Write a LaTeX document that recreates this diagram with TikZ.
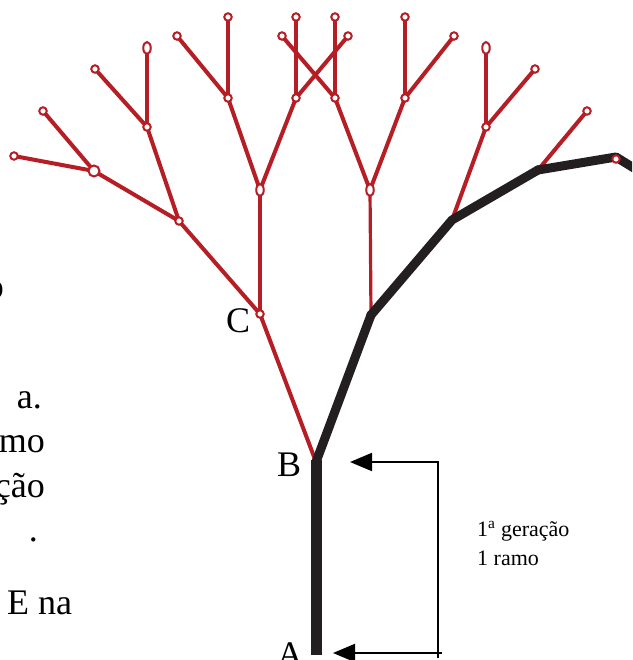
\documentclass[tikz,border=0pt]{standalone}
\usepackage{fontspec}
\setmainfont{Liberation Serif}
\usetikzlibrary{arrows.meta,shapes.geometric}
\definecolor{treered}{HTML}{B61E26}
\definecolor{treeblack}{HTML}{231F20}
\begin{document}
\begin{tikzpicture}[x=1pt,y=-1pt,
  redline/.style={draw=treered,line width=4pt,line cap=round},
  thinred/.style={draw=treered,line width=3.2pt,line cap=round},
  blackline/.style={draw=treeblack,line width=9pt,line join=round},
  trunkline/.style={draw=treeblack,line width=11pt},
  knot/.style={circle,draw=treered,fill=white,line width=2pt,inner sep=0pt,minimum size=7.5pt},
  bigknot/.style={knot,minimum size=11pt},
  ovalknot/.style={ellipse,draw=treered,fill=white,line width=2pt,inner sep=0pt,minimum width=7.5pt,minimum height=12pt},
  bigtext/.style={font=\fontsize{36}{40}\selectfont,inner sep=0pt},
  smalltext/.style={font=\fontsize{22}{28}\selectfont,inner sep=0pt},
  brk/.style={draw=black,line width=2pt},
  tip/.style={-{Triangle[length=22pt,width=18pt]}}
  ]
\useasboundingbox (0,0) rectangle (632,660);
\clip (0,0) rectangle (632,660);

% ---- tree points ----
\coordinate (A) at (316,655);
\coordinate (B) at (316,462);
\coordinate (C) at (260,314);
\coordinate (L1) at (179,221);
\coordinate (L2) at (94,171);
\coordinate (L3) at (14,156);
\coordinate (L4) at (43,111);
\coordinate (L5) at (147,127);
\coordinate (L6) at (95,69);
\coordinate (L7) at (147,48);
\coordinate (M) at (260,190);
\coordinate (M1) at (228,98);
\coordinate (M2) at (296,98);
\coordinate (M1a) at (177,36);
\coordinate (M1b) at (228,17);
\coordinate (M2a) at (296,17);
\coordinate (M2b) at (348,36);
\coordinate (R) at (371,315);
\coordinate (R1) at (452,220);
\coordinate (R2) at (538,170);
\coordinate (R3) at (616,157);
\coordinate (R4) at (587,111);
\coordinate (R5) at (486,127);
\coordinate (R6) at (535,69);
\coordinate (R7) at (486,48);
\coordinate (N) at (370,190);
\coordinate (N1) at (335,98);
\coordinate (N2) at (405,98);
\coordinate (N1a) at (282,36);
\coordinate (N1b) at (335,17);
\coordinate (N2a) at (405,17);
\coordinate (N2b) at (454,36);
\coordinate (Rend) at (650,178);

% ---- red branches ----
\draw[redline] (B) -- (C);
\draw[redline] (C) -- (L1);
\draw[thinred] (C) -- (M);
\draw[redline] (L1) -- (L2);
\draw[redline] (L1) -- (L5);
\draw[redline] (L2) -- (L3);
\draw[redline] (L2) -- (L4);
\draw[redline] (L5) -- (L6);
\draw[thinred] (L5) -- (L7);
\draw[redline] (M) -- (M1);
\draw[redline] (M) -- (M2);
\draw[redline] (M1) -- (M1a);
\draw[thinred] (M1) -- (M1b);
\draw[thinred] (M2) -- (M2a);
\draw[redline] (M2) -- (M2b);
\draw[redline] (B) -- (R);
\draw[thinred] (R) -- (N);
\draw[redline] (N) -- (N1);
\draw[redline] (N) -- (N2);
\draw[redline] (N1) -- (N1a);
\draw[thinred] (N1) -- (N1b);
\draw[thinred] (N2) -- (N2a);
\draw[redline] (N2) -- (N2b);
\draw[redline] (R) -- (R1);
\draw[redline] (R1) -- (R2);
\draw[redline] (R1) -- (R5);
\draw[redline] (R5) -- (R6);
\draw[thinred] (R5) -- (R7);
\draw[redline] (R2) -- (R3);
\draw[redline] (R2) -- (R4);

% knots hidden under the black path
\node[knot] (kR) at (R) {};
\node[knot] (kR2) at (R2) {};

% ---- black trunk and main path ----
\draw[trunkline] (A) -- ([yshift=2pt]B);
\draw[blackline] (B) -- (R) -- (R1) -- (R2) -- (R3) -- (Rend);

% ---- visible knots ----
\node[knot] (kC) at (C) {};
\node[knot] (kL1) at (L1) {};
\node[bigknot] (kL2) at (L2) {};
\node[knot] (kL3) at (L3) {};
\node[knot] (kL4) at (L4) {};
\node[knot] (kL5) at (L5) {};
\node[knot] (kL6) at (L6) {};
\node[ovalknot] (kL7) at (L7) {};
\node[ovalknot] (kM) at (M) {};
\node[knot] (kM1) at (M1) {};
\node[knot] (kM2) at (M2) {};
\node[knot] (kM1a) at (M1a) {};
\node[knot] (kM1b) at (M1b) {};
\node[knot] (kM2a) at (M2a) {};
\node[knot] (kM2b) at (M2b) {};
\node[ovalknot] (kN) at (N) {};
\node[knot] (kN1) at (N1) {};
\node[knot] (kN2) at (N2) {};
\node[knot] (kN1a) at (N1a) {};
\node[knot] (kN1b) at (N1b) {};
\node[knot] (kN2a) at (N2a) {};
\node[knot] (kN2b) at (N2b) {};
\node[knot] (kR5) at (R5) {};
\node[knot] (kR6) at (R6) {};
\node[ovalknot] (kR7) at (R7) {};
\node[knot] (kR4) at (R4) {};
\node[knot] (kR3) at ([yshift=-2pt]R3) {};

% ---- labels ----
\node[bigtext,anchor=base west] (labC) at (226,332) {C};
\node[bigtext,anchor=base west] (labB) at (277,476) {B};
\node[bigtext,anchor=base west] (labA) at (277,666) {A};

% ---- bracket with arrows ----
\coordinate (tipB) at (350,462);
\coordinate (brkTR) at (438,462);
\coordinate (brkBR) at (438,658);
\coordinate (brkBE) at (442,653);
\coordinate (tipA) at (333,653);
\draw[brk,tip] (brkBR) -- (brkTR) -- (tipB);
\draw[brk,tip] (brkBE) -- (tipA);

\node[smalltext,anchor=base west] (gen) at (477,536) {1\textsuperscript{a} geração};
\node[smalltext,anchor=base west] (ramo) at (477,565) {1 ramo};

% ---- cut-off body text at the left ----
\node[bigtext,anchor=base east] (t0) at (4,298) {o};
\node[bigtext,anchor=base east] (t1) at (42,408) {a.};
\node[bigtext,anchor=base east] (t2) at (45,452) {mo};
\node[bigtext,anchor=base east] (t3) at (45,497) {ção};
\node[bigtext,anchor=base east] (t4) at (38,541) {.};
\node[bigtext,anchor=base west] (t5) at (7,614) {E na};
\end{tikzpicture}
\end{document}
